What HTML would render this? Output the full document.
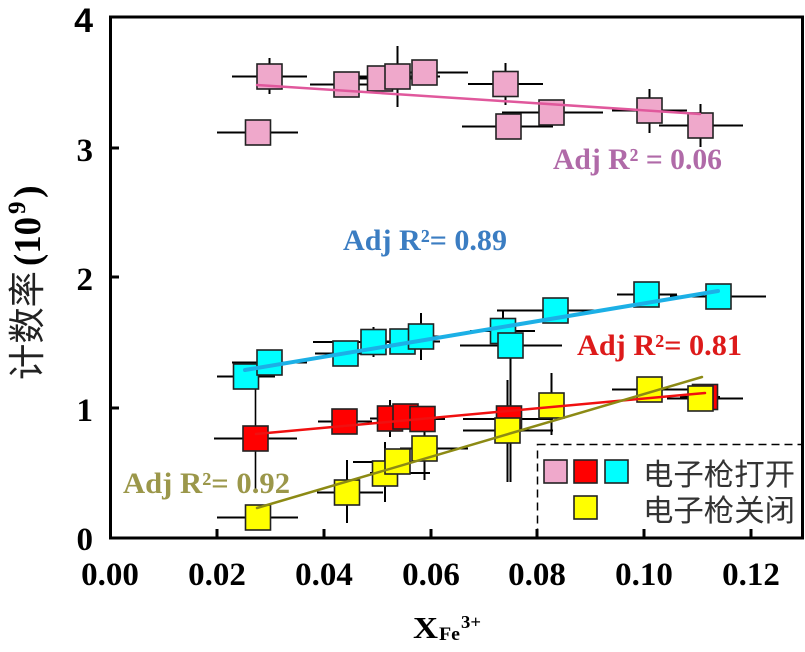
<!DOCTYPE html>
<html>
<head>
<meta charset="utf-8">
<style>
  html,body{margin:0;padding:0;background:#fff;}
  svg{display:block;}
</style>
</head>
<body>
<svg width="805" height="652" viewBox="0 0 805 652" xmlns="http://www.w3.org/2000/svg">
  <rect x="0" y="0" width="805" height="652" fill="#fff"/>

  <!-- error bars -->
  <g stroke="#000" stroke-width="2" fill="none">
    <!-- pink -->
    <path d="M232,76.5H307 M269.5,58V94"/>
    <path d="M217,132.5H298"/>
    <path d="M310,84.5H383"/>
    <path d="M353,78.5H427"/>
    <path d="M355,76.5H440 M397.5,46V107"/>
    <path d="M395,72.5H468"/>
    <path d="M468,84H543 M505.5,63V105"/>
    <path d="M462,126.5H553"/>
    <path d="M502,112.5H603"/>
    <path d="M612,110.5H687 M649.5,89V133"/>
    <path d="M659,125.5H743 M700.5,104V147"/>
    <!-- cyan -->
    <path d="M217,376.5H275"/>
    <path d="M232,362.5H307"/>
    <path d="M313,342H360 M315,353.5H380"/>
    <path d="M353,342H400 M373.5,327V357"/>
    <path d="M385,341.5H440"/>
    <path d="M400,336.5H452 M421,313V360"/>
    <path d="M470,331H535 M503,310V352"/>
    <path d="M460,345.5H562 M510.5,345.5V482"/>
    <path d="M497,310.5H600"/>
    <path d="M617,294.5H677"/>
    <path d="M670,296.5H766"/>
    <!-- red -->
    <path d="M214,438.5H297"/>
    <path d="M255.5,385V490" stroke-width="1.6"/>
    <path d="M318,421.5H372"/>
    <path d="M370,418.5H410 M390,400V437"/>
    <path d="M380,416.5H430"/>
    <path d="M400,419H445"/>
    <path d="M463,419H553"/>
    <path d="M680,397H720"/>
    <!-- yellow -->
    <path d="M217,517.5H298"/>
    <path d="M317,492.5H383 M347,460V523"/>
    <path d="M353,462H413 M385,442V502"/>
    <path d="M370,473H430"/>
    <path d="M400,448.5H468 M424.5,420V480"/>
    <path d="M463,430.5H553 M507.5,380V482" />
    <path d="M551.5,373V435"/>
    <path d="M612,389.5H690"/>
    <path d="M667,398.5H743"/>
  </g>

  <!-- markers -->
  <g stroke="#222" stroke-width="1.6">
    <g fill="#efa8cb">
      <rect x="257" y="64" width="25" height="25"/>
      <rect x="245.5" y="120" width="25" height="25"/>
      <rect x="334" y="72" width="25" height="25"/>
      <rect x="367.5" y="66" width="25" height="25"/>
      <rect x="385" y="64" width="25" height="25"/>
      <rect x="412" y="60" width="25" height="25"/>
      <rect x="493" y="71.5" width="25" height="25"/>
      <rect x="496" y="114" width="25" height="25"/>
      <rect x="539" y="100" width="25" height="25"/>
      <rect x="637" y="98" width="25" height="25"/>
      <rect x="688" y="113" width="25" height="25"/>
    </g>
    <g fill="#00ffff">
      <rect x="233.5" y="364" width="25" height="25"/>
      <rect x="257" y="350" width="25" height="25"/>
      <rect x="333" y="341" width="25" height="25"/>
      <rect x="361" y="329.5" width="25" height="25"/>
      <rect x="390" y="329" width="25" height="25"/>
      <rect x="408.5" y="324" width="25" height="25"/>
      <rect x="490.5" y="318.5" width="25" height="25"/>
      <rect x="498" y="333" width="25" height="25"/>
      <rect x="543" y="298" width="25" height="25"/>
      <rect x="634" y="282" width="25" height="25"/>
      <rect x="706" y="284" width="25" height="25"/>
    </g>
    <g fill="#ff0000">
      <rect x="243" y="426" width="25" height="25"/>
      <rect x="332" y="409" width="25" height="25"/>
      <rect x="377.5" y="406" width="25" height="25"/>
      <rect x="393" y="404" width="25" height="25"/>
      <rect x="410" y="406.5" width="25" height="25"/>
      <rect x="496.5" y="406" width="25" height="25"/>
      <rect x="692.5" y="384.5" width="25" height="25"/>
    </g>
    <g fill="#ffff00">
      <rect x="245.5" y="505" width="25" height="25"/>
      <rect x="334.5" y="480" width="25" height="25"/>
      <rect x="372.5" y="461" width="25" height="25"/>
      <rect x="385" y="449" width="25" height="25"/>
      <rect x="412" y="436" width="25" height="25"/>
      <rect x="495" y="418" width="25" height="25"/>
      <rect x="539" y="393" width="25" height="25"/>
      <rect x="637" y="377" width="25" height="25"/>
      <rect x="688" y="386" width="25" height="25"/>
    </g>
  </g>

  <!-- fit lines -->
  <g fill="none" stroke-linecap="round">
    <path d="M257,85 L700,114" stroke="#e0589c" stroke-width="2.5"/>
    <path d="M245,370 L718,291" stroke="#1cb0e6" stroke-width="4"/>
    <path d="M256,434 L705,393" stroke="#f01010" stroke-width="2.5"/>
    <path d="M257,508 L702,377" stroke="#8c8a14" stroke-width="2.5"/>
  </g>

  <!-- legend -->
  <rect x="537.5" y="444.5" width="265" height="93" fill="#fff" stroke="#000" stroke-width="1.5" stroke-dasharray="8,5"/>
  <g stroke="#222" stroke-width="1.6">
    <rect x="544" y="460" width="23" height="23" fill="#efa8cb"/>
    <rect x="574" y="460" width="23" height="23" fill="#ff0000"/>
    <rect x="605" y="460" width="23" height="23" fill="#00ffff"/>
    <rect x="574" y="496" width="23" height="23" fill="#ffff00"/>
  </g>
  <g font-family="'Noto Sans CJK SC','WenQuanYi Zen Hei',sans-serif" font-size="30" fill="#333">
    <text x="643" y="485" textLength="152" lengthAdjust="spacingAndGlyphs">电子枪打开</text>
    <text x="643" y="521" textLength="152" lengthAdjust="spacingAndGlyphs">电子枪关闭</text>
  </g>

  <!-- axes frame -->
  <rect x="110.5" y="17" width="692" height="521" fill="none" stroke="#000" stroke-width="3"/>
  <!-- ticks -->
  <g stroke="#000" stroke-width="3">
    <path d="M217,529V538 M324,529V538 M431,529V538 M537,529V538 M644,529V538 M751,529V538"/>
    <path d="M110,148H119 M110,277H119 M110,408H119"/>
  </g>

  <!-- tick labels -->
  <g font-family="'Liberation Serif',serif" font-weight="bold" font-size="33" fill="#000" text-anchor="middle">
    <text x="110" y="585">0.00</text>
    <text x="217" y="585">0.02</text>
    <text x="324" y="585">0.04</text>
    <text x="431" y="585">0.06</text>
    <text x="537" y="585">0.08</text>
    <text x="644" y="585">0.10</text>
    <text x="751" y="585">0.12</text>
  </g>
  <g font-family="'Liberation Serif',serif" font-weight="bold" font-size="33" fill="#000" text-anchor="end">
    <text x="93" y="550">0</text>
    <text x="93" y="421">1</text>
    <text x="93" y="290">2</text>
    <text x="93" y="161">3</text>
  </g>
  <text x="93" y="32" font-family="'Liberation Sans',sans-serif" font-weight="bold" font-size="34" text-anchor="end" fill="#000">4</text>

  <!-- annotations -->
  <g font-family="'Liberation Serif',serif" font-weight="bold" font-size="30">
    <text x="553" y="169" fill="#b06aa8" textLength="169" lengthAdjust="spacingAndGlyphs">Adj R² = 0.06</text>
    <text x="343" y="250" fill="#3b7dc2" textLength="164" lengthAdjust="spacingAndGlyphs">Adj R²= 0.89</text>
    <text x="577" y="355" fill="#dd1a1a" textLength="165" lengthAdjust="spacingAndGlyphs">Adj R²= 0.81</text>
    <text x="123" y="493" fill="#9b974a" textLength="167" lengthAdjust="spacingAndGlyphs">Adj R²= 0.92</text>
  </g>

  <!-- x axis title -->
  <g font-family="'Liberation Serif',serif" font-weight="bold" fill="#000">
    <text x="413" y="638" font-size="31" textLength="25" lengthAdjust="spacingAndGlyphs">X</text>
    <text x="439" y="640" font-size="19" textLength="21" lengthAdjust="spacingAndGlyphs">Fe</text>
    <text x="461" y="628" font-size="18" textLength="20" lengthAdjust="spacingAndGlyphs">3+</text>
  </g>

  <!-- y axis title -->
  <g transform="translate(40,380) rotate(-90)">
    <text x="0" y="0" font-family="'Noto Sans CJK SC','WenQuanYi Zen Hei',sans-serif" font-size="37" fill="#222" textLength="109" lengthAdjust="spacingAndGlyphs">计数率</text>
    <text x="114" y="0" font-family="'Liberation Serif',serif" font-weight="bold" font-size="38" fill="#000" textLength="49" lengthAdjust="spacingAndGlyphs">(10</text>
    <text x="166" y="-15" font-family="'Liberation Serif',serif" font-weight="bold" font-size="25" fill="#000">9</text>
    <text x="182" y="0" font-family="'Liberation Serif',serif" font-weight="bold" font-size="38" fill="#000">)</text>
  </g>
</svg>
</body>
</html>
